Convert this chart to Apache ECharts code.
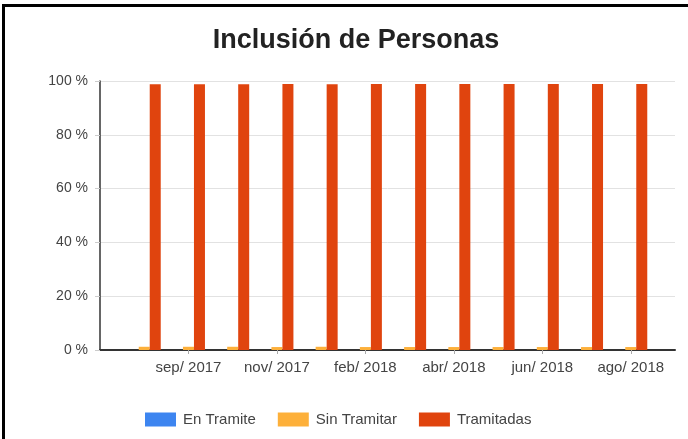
<!DOCTYPE html>
<html>
<head>
<meta charset="utf-8">
<script src="https://cdn.jsdelivr.net/npm/echarts@6/dist/echarts.min.js"></script>
<style>
html,body{margin:0;padding:0;background:#fff;}
#c{width:688px;height:439px;}
</style>
</head>
<body>
<div id="c"></div>
<script>
// Categories (month groups); padded with empty slots at both ends of the axis
const categories = ['ago/ 2017','sep/ 2017','oct/ 2017','nov/ 2017','dic/ 2017','feb/ 2018','mar/ 2018','abr/ 2018','may/ 2018','jun/ 2018','jul/ 2018','ago/ 2018'];
const enTramite   = [0, 0, 0, 0, 0, 0, 0, 0, 0, 0, 0, 0];
const sinTramitar = [1.2, 1.2, 1.2, 1.1, 1.2, 1.1, 1.1, 1.1, 1.1, 1.1, 1.1, 1.1];
const tramitadas  = [98.8, 98.8, 98.8, 98.9, 98.8, 98.9, 98.9, 98.9, 98.9, 98.9, 98.9, 98.9];
const seriesNames = ['En Tramite', 'Sin Tramitar', 'Tramitadas'];
const yTicks = [0, 20, 40, 60, 80, 100];

const axisCats = [''].concat(categories, ['']);
const pad = arr => [null].concat(arr, [null]);
const showAt = (i) => i > 0 && i < axisCats.length - 1 && i % 2 === 0;

const chart = echarts.init(document.getElementById('c'));
const font = 'Arial, "Liberation Sans", sans-serif';
chart.setOption({
  animation: false,
  color: ['#3d85f0', '#fdb03a', '#e0440e'],
  title: {
    text: 'Inclusión de Personas',
    left: 351, top: 22, textAlign: 'center',
    textStyle: {fontFamily: font, fontSize: 27, fontWeight: 'bold', color: '#222'}
  },
  legend: {
    data: seriesNames,
    left: 140, top: 407,
    itemWidth: 31, itemHeight: 14, itemGap: 22,
    icon: 'rect',
    textStyle: {fontFamily: font, fontSize: 15, color: '#444', padding: [0, 0, 0, 2]}
  },
  grid: {left: 100, right: 13, top: 81, bottom: 89},
  xAxis: {
    type: 'category',
    data: axisCats,
    boundaryGap: false,
    axisLine: {lineStyle: {color: '#333', width: 2}},
    axisTick: {show: true, length: 4, interval: (i) => showAt(i), lineStyle: {color: '#aaa'}},
    axisLabel: {interval: (i) => showAt(i), fontFamily: font, fontSize: 15, color: '#444', margin: 10},
    splitLine: {show: false}
  },
  yAxis: {
    type: 'value',
    min: 0, max: 100, interval: 20,
    axisLine: {show: true, lineStyle: {color: '#333', width: 1.5}},
    axisTick: {show: true, length: 5, lineStyle: {color: '#ccc'}},
    axisLabel: {
      formatter: (v) => yTicks.indexOf(v) >= 0 ? v + ' %' : '',
      fontFamily: font, fontSize: 14, color: '#444', margin: 12
    },
    splitLine: {lineStyle: {color: '#e2e2e2', width: 1}}
  },
  series: [
    {name: seriesNames[0], type: 'bar', data: pad(enTramite), barWidth: 11, barGap: '0%'},
    {name: seriesNames[1], type: 'bar', data: pad(sinTramitar), barWidth: 11, barGap: '0%'},
    {name: seriesNames[2], type: 'bar', data: pad(tramitadas), barWidth: 11, barGap: '0%'}
  ],
  graphic: [
    {type: 'rect', shape: {x: 2, y: 4, width: 686, height: 3}, style: {fill: '#000'}},
    {type: 'rect', shape: {x: 2, y: 4, width: 3, height: 435}, style: {fill: '#000'}}
  ]
});
</script>
</body>
</html>
